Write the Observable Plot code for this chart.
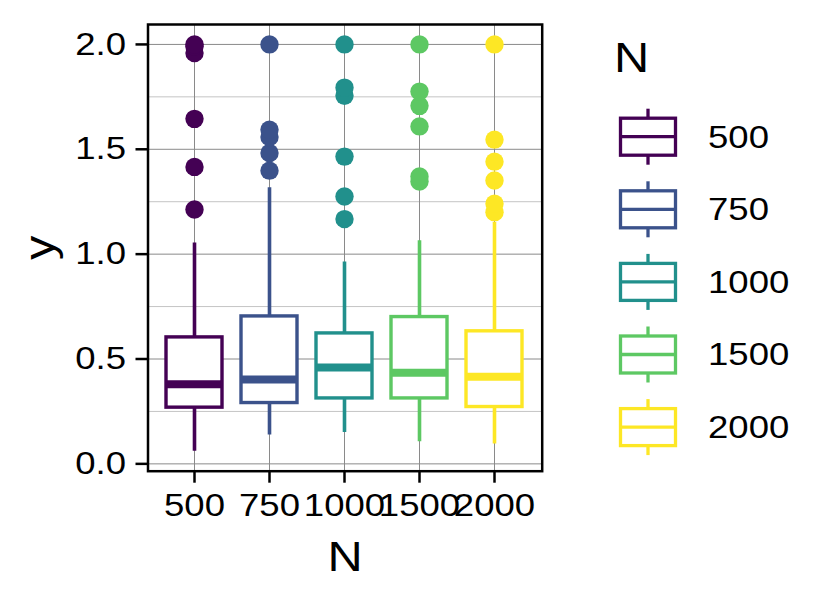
<!DOCTYPE html>
<html>
<head>
<meta charset="utf-8">
<script src="https://cdn.jsdelivr.net/npm/d3@7"></script>
<script src="https://cdn.jsdelivr.net/npm/@observablehq/plot@0.6"></script>
<style>
  html, body { margin: 0; padding: 0; background: #fff; }
  #wrap { position: relative; width: 834px; height: 601px; }
  #wrap svg { position: absolute; left: 0; top: 0; }
  text { font-family: "Liberation Sans", Arial, Helvetica, sans-serif; }
</style>
</head>
<body>
<div id="wrap"></div>
<script>
// ---- data ----
const categories = ["500", "750", "1000", "1500", "2000"];
const colors = ["#440154", "#3B528B", "#21908C", "#5DC863", "#FDE725"];
const whiskerLow  = [0.060, 0.138, 0.150, 0.105, 0.095];
const q1          = [0.268, 0.290, 0.312, 0.312, 0.271];
const median      = [0.380, 0.402, 0.459, 0.434, 0.415];
const q3          = [0.603, 0.703, 0.622, 0.700, 0.632];
const whiskerHigh = [1.053, 1.316, 0.963, 1.064, 1.151];
const outliers = [
  [1.213, 1.416, 1.645, 1.959, 1.990, 2.0],
  [1.398, 1.482, 1.558, 1.593, 2.0],
  [1.167, 1.275, 1.465, 1.755, 1.794, 2.0],
  [1.346, 1.370, 1.609, 1.707, 1.775, 2.0],
  [1.200, 1.240, 1.351, 1.441, 1.546, 2.0]
];
const yTicks = [0, 0.5, 1.0, 1.5, 2.0];
const yMinor = [0.25, 0.75, 1.25, 1.75];

// ---- tables built from the arrays ----
const stats = categories.map((N, i) => ({
  N, lo: whiskerLow[i], q1: q1[i], med: median[i], q3: q3[i], hi: whiskerHigh[i]
}));
const points = categories.flatMap((N, i) => outliers[i].map(y => ({N, y})));

const font = '"Liberation Sans", Arial, Helvetica, sans-serif';
const W = 834, H = 601;
const mL = 147.5, mT = 24, mR = W - 541.7, mB = H - 470.7;
const tickFont = 31.5, titleFont = 42;

const plot = Plot.plot({
  width: W,
  height: H,
  marginLeft: mL,
  marginTop: mT,
  marginRight: mR,
  marginBottom: mB,
  style: {fontFamily: font, background: "transparent", overflow: "visible"},
  x: {domain: categories, paddingInner: 0.25, paddingOuter: 0.225, label: null},
  y: {domain: [-0.035, 2.095], label: null},
  color: {domain: categories, range: colors},
  marks: [
    Plot.ruleY(yMinor, {stroke: "#c4c4c4", strokeWidth: 1}),
    Plot.ruleY(yTicks, {stroke: "#8a8a8a", strokeWidth: 1}),
    Plot.ruleX(categories, {x: d => d, stroke: "#8a8a8a", strokeWidth: 1}),
    Plot.ruleX(stats, {x: "N", y1: "lo", y2: "hi", stroke: "N", strokeWidth: 3.6}),
    Plot.barY(stats, {x: "N", y1: "q1", y2: "q3", fill: "white", stroke: "N", strokeWidth: 3.4}),
    Plot.tickY(stats, {x: "N", y: "med", stroke: "N", strokeWidth: 8}),
    Plot.dot(points, {x: "N", y: "y", fill: "N", r: 9.2}),
    Plot.frame({stroke: "black", strokeWidth: 2.5}),
    Plot.axisY({ticks: yTicks, tickFormat: d3.format(".1f"), tickSize: 12, tickPadding: 10,
      fontSize: tickFont, stroke: "black", strokeWidth: 2.5, color: "black", label: null}),
    Plot.axisX({tickSize: 12, tickPadding: 10, fontSize: tickFont, stroke: "black",
      strokeWidth: 2.5, color: "black", label: null}),
    Plot.text(["y"], {frameAnchor: "left", dx: -94, rotate: -90, lineAnchor: "bottom",
      textAnchor: "middle", fontSize: titleFont, fill: "black"}),
    Plot.text(["N"], {frameAnchor: "bottom", dy: 100, lineAnchor: "bottom",
      textAnchor: "middle", fontSize: titleFont, fill: "black"})
  ]
});
document.getElementById("wrap").appendChild(plot);

// ---- legend ----
const colorScale = plot.scale("color");
const leg = d3.select("#wrap").append("svg")
  .attr("width", W).attr("height", H)
  .style("pointer-events", "none");
leg.append("text").attr("x", 614).attr("y", 72)
  .attr("font-size", titleFont).attr("fill", "black").style("font-family", font).text("N");
const keyX = 648, keyW = 55, keyBox = 37, whisk = 28;
categories.forEach((N, i) => {
  const cy = 136.7 + i * 72.6;
  const c = colorScale.apply(N);
  const g = leg.append("g");
  g.append("line").attr("x1", keyX).attr("x2", keyX).attr("y1", cy - whisk).attr("y2", cy + whisk)
    .attr("stroke", c).attr("stroke-width", 3.3);
  g.append("rect").attr("x", keyX - keyW / 2).attr("y", cy - keyBox / 2)
    .attr("width", keyW).attr("height", keyBox)
    .attr("fill", "white").attr("stroke", c).attr("stroke-width", 3.3);
  g.append("line").attr("x1", keyX - keyW / 2).attr("x2", keyX + keyW / 2).attr("y1", cy).attr("y2", cy)
    .attr("stroke", c).attr("stroke-width", 3.3);
  g.append("text").attr("x", 708).attr("y", cy + 11)
    .attr("font-size", tickFont).attr("fill", "black").style("font-family", font).text(N);
});

// ---- the reference's glyphs are drawn wider than Arial: stretch each text about its anchor ----
const stretch = 1.16;
document.querySelectorAll("#wrap text").forEach(el => {
  const bb = el.getBBox();
  const anchor = getComputedStyle(el).textAnchor;
  const cx = anchor === "middle" ? bb.x + bb.width / 2 : anchor === "end" ? bb.x + bb.width : bb.x;
  const old = el.getAttribute("transform") || "";
  el.setAttribute("transform", `${old} translate(${cx},0) scale(${stretch},1) translate(${-cx},0)`);
});
</script>
</body>
</html>
